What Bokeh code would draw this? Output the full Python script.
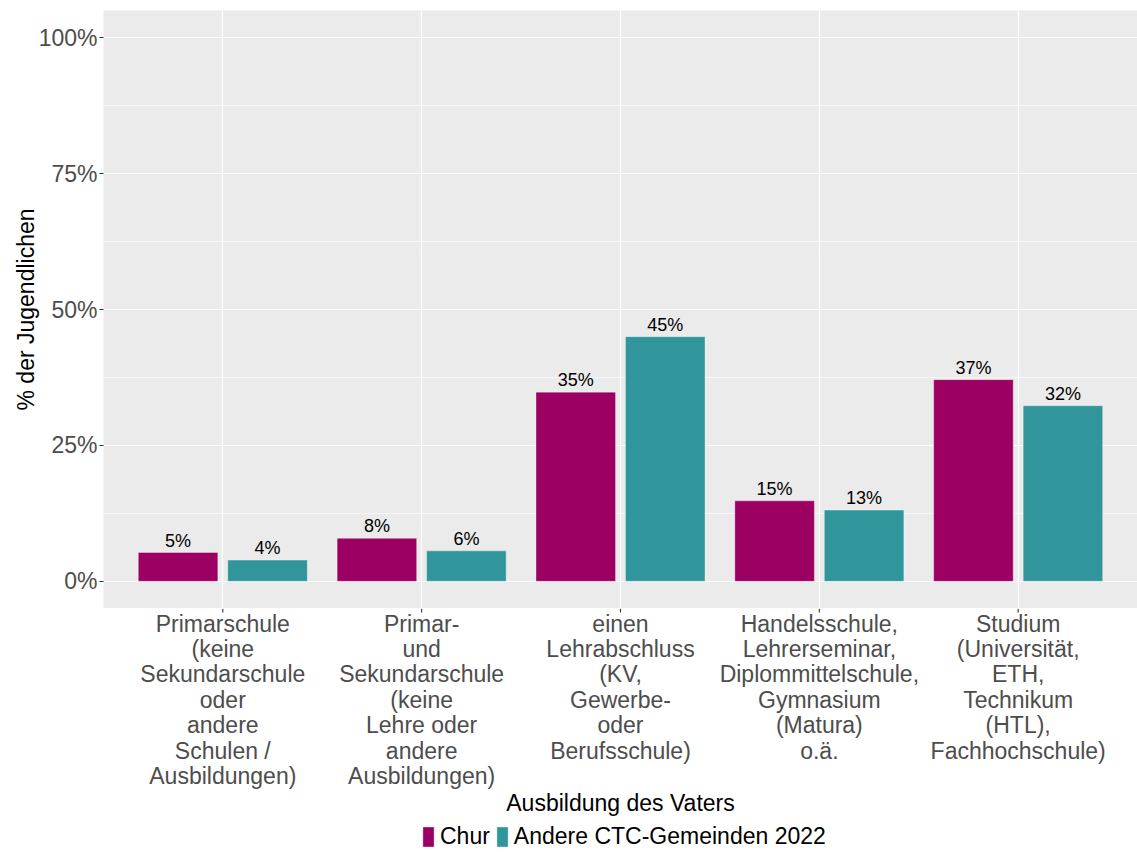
from bokeh.plotting import figure
from bokeh.models import (ColumnDataSource, FactorRange, Range1d, FixedTicker,
                          PrintfTickFormatter, Legend, LegendItem)
from bokeh.layouts import column
from bokeh.transform import dodge
from bokeh.core.properties import value
from bokeh.embed import file_html
from bokeh.resources import INLINE

# ---- data ----
categories = [
    "Primarschule\n(keine\nSekundarschule\noder\nandere\nSchulen /\nAusbildungen)",
    "Primar-\nund\nSekundarschule\n(keine\nLehre oder\nandere\nAusbildungen)",
    "einen\nLehrabschluss\n(KV,\nGewerbe-\noder\nBerufsschule)",
    "Handelsschule,\nLehrerseminar,\nDiplommittelschule,\nGymnasium\n(Matura)\no.ä.",
    "Studium\n(Universität,\nETH,\nTechnikum\n(HTL),\nFachhochschule)",
]
chur = [5.3, 7.9, 34.8, 14.8, 37.1]
andere = [3.9, 5.6, 45.0, 13.1, 32.3]
series_names = ["Chur", "Andere CTC-Gemeinden 2022"]
x_title = "Ausbildung des Vaters"
y_title = "% der Jugendlichen"
y_ticks = [0, 25, 50, 75, 100]
y_minor = [12.5, 37.5, 62.5, 87.5]

COL_CHUR = "#9B0062"
COL_AND = "#31969B"
FONT = "Liberation Sans"

src = ColumnDataSource(dict(
    cat=categories,
    chur=chur,
    andere=andere,
    chur_lbl=[f"{round(v)}%" for v in chur],
    andere_lbl=[f"{round(v)}%" for v in andere],
))

# ---------------- main panel ----------------
p = figure(
    x_range=FactorRange(factors=categories, range_padding=0.1, range_padding_units="absolute"),
    y_range=Range1d(-5, 105),
    frame_width=1034, frame_height=598,
    min_border_left=103, min_border_right=0, min_border_top=10, min_border_bottom=0,
    x_axis_location=None,
    output_backend="svg", toolbar_location=None,
    background_fill_color="#EBEBEB", border_fill_color="white",
)
p.outline_line_color = None

bar_kw = dict(width=0.4, source=src, line_color="white", line_alpha=0.35, line_width=1)
p.vbar(x=dodge("cat", -0.225, range=p.x_range), top="chur", fill_color=COL_CHUR, **bar_kw)
p.vbar(x=dodge("cat", 0.225, range=p.x_range), top="andere", fill_color=COL_AND, **bar_kw)

lbl_kw = dict(source=src, text_align="center", text_baseline="alphabetic", y_offset=-12,
              text_font=value(FONT), text_font_size="18px", text_color="black")
p.text(x=dodge("cat", -0.225, range=p.x_range), y="chur", text="chur_lbl", **lbl_kw)
p.text(x=dodge("cat", 0.225, range=p.x_range), y="andere", text="andere_lbl", **lbl_kw)

# grid
p.xgrid.grid_line_color = "white"
p.xgrid.grid_line_width = 1.2
p.ygrid.grid_line_color = "white"
p.ygrid.grid_line_width = 1.2
p.ygrid.minor_grid_line_color = "white"
p.ygrid.minor_grid_line_width = 0.6

# y axis
ya = p.yaxis[0]
ya.ticker = FixedTicker(ticks=y_ticks, minor_ticks=y_minor)
ya.formatter = PrintfTickFormatter(format="%d%%")
ya.axis_label = y_title
ya.axis_line_color = None
ya.major_tick_line_color = "#333333"
ya.major_tick_in = 0
ya.major_tick_out = 4
ya.minor_tick_line_color = None
ya.major_label_text_font = FONT
ya.major_label_text_font_size = "23px"
ya.major_label_text_color = "#4D4D4D"
ya.axis_label_text_font = FONT
ya.axis_label_text_font_size = "23px"
ya.axis_label_text_font_style = "normal"
ya.axis_label_text_color = "black"
ya.major_label_standoff = 2
ya.axis_label_standoff = -3

# ---------------- bottom strip: x tick labels, x title, legend ----------------
p2 = figure(
    x_range=p.x_range, y_range=Range1d(-244, 0),
    frame_width=1034, frame_height=244,
    min_border_left=103, min_border_right=0, min_border_top=0, min_border_bottom=0,
    x_axis_location=None, y_axis_location=None,
    output_backend="svg", toolbar_location=None,
    background_fill_color="white", border_fill_color="white",
)
p2.outline_line_color = None
p2.grid.visible = False

# tick marks below the panel
p2.segment(x0="cat", y0=0, x1="cat", y1=-4, source=src, line_color="#333333", line_width=1.1)

# category labels
p2.text(x="cat", y=-2, text="cat", source=src, text_align="center", text_baseline="top",
        text_line_height=0.98, text_font=value(FONT), text_font_size="23px",
        text_color="#4D4D4D")

# x axis title (centred on the middle category = centre of the panel)
p2.text(x=[categories[2]], y=[-181], text=[x_title], text_align="center",
        text_baseline="top", text_font=value(FONT), text_font_size="23px",
        text_color="black")

# legend renderers (bars lie above the strip's visible range, so only the legend shows)
lr1 = p2.vbar(x="cat", top="chur", fill_color=COL_CHUR, **bar_kw)
lr2 = p2.vbar(x="cat", top="andere", fill_color=COL_AND, **bar_kw)

legend = Legend(
    items=[LegendItem(label=series_names[0], renderers=[lr1]),
           LegendItem(label=series_names[1], renderers=[lr2])],
    orientation="horizontal", location=(318, 2),
    label_text_font=FONT, label_text_font_size="23px", label_text_color="black",
    glyph_width=14, glyph_height=25, label_standoff=5, spacing=5,
    padding=0, margin=0, border_line_color=None, background_fill_alpha=0,
)
p2.add_layout(legend, "center")

layout = column(p, p2, spacing=0)
open("out.html", "w").write(file_html(layout, INLINE))
